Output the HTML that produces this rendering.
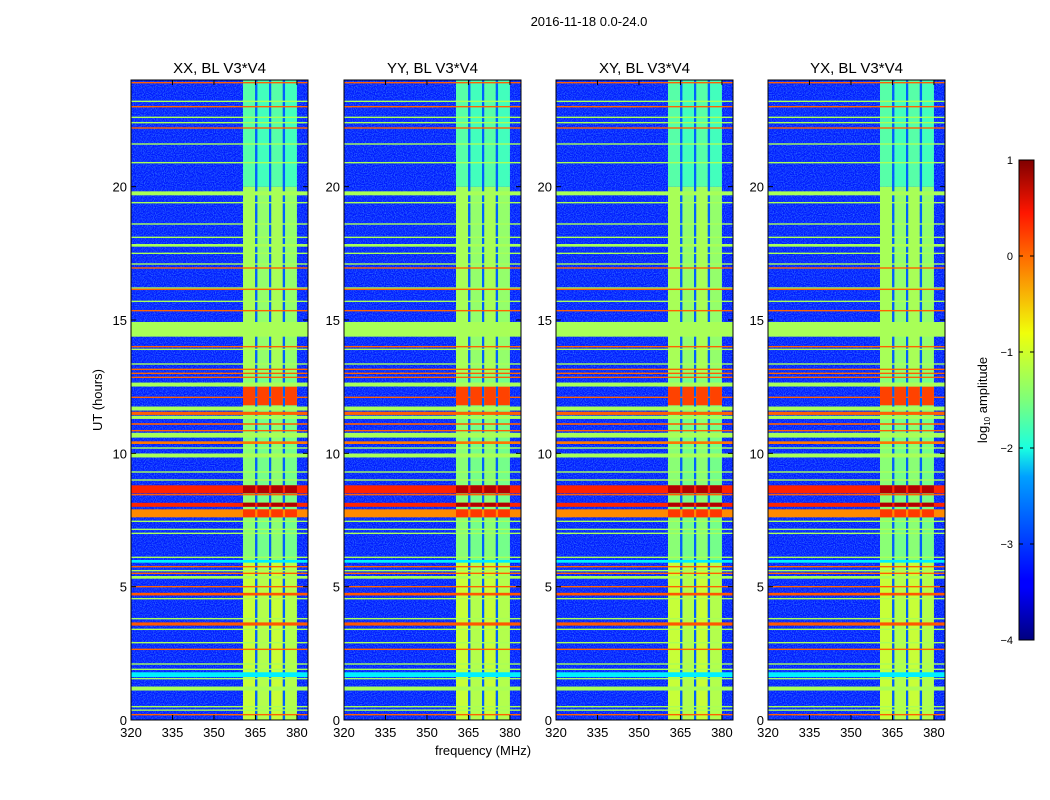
<!DOCTYPE html>
<html><head><meta charset="utf-8">
<style>
body{margin:0;background:#fff;}
svg{display:block;font-family:"Liberation Sans",sans-serif;}
</style></head>
<body>
<svg id="fig" width="1050" height="800" viewBox="0 0 1050 800" xmlns="http://www.w3.org/2000/svg">
<defs>
<filter id="noise" x="0" y="0" width="100%" height="100%">
<feTurbulence type="fractalNoise" baseFrequency="0.9" numOctaves="1" seed="3"/>
<feColorMatrix type="matrix" values="0 0 0 0 0.1  0 0 0 0 0.5  0 0 0 0 1  0 0 0 1.6 -0.6"/>
</filter>
<linearGradient id="jet" x1="0" y1="1" x2="0" y2="0">
<stop offset="0" stop-color="#00007f"/><stop offset="0.11" stop-color="#0000ff"/>
<stop offset="0.125" stop-color="#0000ff"/><stop offset="0.34" stop-color="#00a0ff"/>
<stop offset="0.4" stop-color="#1affe0"/><stop offset="0.5" stop-color="#7dff7a"/>
<stop offset="0.64" stop-color="#f0ff0a"/><stop offset="0.8" stop-color="#ff6a00"/>
<stop offset="0.89" stop-color="#ff1600"/><stop offset="1" stop-color="#800000"/>
</linearGradient>
</defs>
<text x="589" y="26" font-size="13" text-anchor="middle">2016-11-18 0.0-24.0</text>
<text x="483" y="755" font-size="13" text-anchor="middle">frequency (MHz)</text>
<text x="102" y="400" font-size="13" text-anchor="middle" transform="rotate(-90 102 400)">UT (hours)</text>
<g id="panels"></g>
<g>
<rect x="1019" y="160" width="15" height="480" fill="url(#jet)" stroke="#000" stroke-width="1"/>
<text x="987" y="400" font-size="13" text-anchor="middle" transform="rotate(-90 987 400)">log<tspan font-size="8" dy="3">10</tspan><tspan dy="-3"> amplitude</tspan></text>
<g id="cbticks"></g>
</g>
</svg>
<script>
const panelTitles = ["XX, BL V3*V4","YY, BL V3*V4","XY, BL V3*V4","YX, BL V3*V4"];
const xTicks = [320,335,350,365,380];
const yTicks = [0,5,10,15,20];
const cbTicks = [1,0,-1,-2,-3,-4];
const cbLabels = ["1","0","\u22121","\u22122","\u22123","\u22124"];
// RFI bands (freq start, freq end)
const bandStart = [360.5, 365.7, 370.7, 375.7];
const bandEnd   = [364.9, 369.9, 374.9, 380.0];
// band level by time segment: start hour, end hour, level
const segStart = [0, 6, 13, 20];
const segEnd   = [6, 13, 20, 24];
const segLevel = [-1.15, -1.45, -1.3, -1.7];
// time-bright blocks inside bands: hour start, hour end, level
const boostStart = [11.8, 8.5, 8.0, 7.6];
const boostEnd   = [12.5, 8.8, 8.15, 7.9];
const boostLevel = [0.05, 0.75, 0.75, 0.1];
// horizontal RFI rows: hour, thickness (h), level
const rowHour = [23.9,23.2,23.0,22.6,22.4,22.2,21.6,20.9,19.75,19.4,18.6,18.1,17.8,17.5,17.1,16.95,16.2,16.15,15.7,15.35,14.65,14.0,13.9,13.35,13.15,13.0,12.85,12.58,12.1,11.68,11.5,11.35,11.1,10.85,10.68,10.4,10.2,9.92,9.3,9.0,8.65,8.45,8.07,7.75,7.45,7.15,7.0,6.1,5.95,5.75,5.6,5.5,5.35,5.0,4.72,4.55,3.8,3.6,3.4,2.9,2.65,2.1,1.9,1.7,1.55,1.18,0.5,0.37,0.2];
const rowWidth = [0.04,0.05,0.05,0.05,0.04,0.05,0.04,0.05,0.15,0.05,0.04,0.04,0.1,0.04,0.04,0.05,0.04,0.04,0.05,0.05,0.55,0.05,0.05,0.05,0.05,0.05,0.05,0.15,0.05,0.15,0.12,0.12,0.06,0.05,0.18,0.1,0.04,0.15,0.04,0.04,0.3,0.05,0.15,0.3,0.05,0.05,0.04,0.04,0.1,0.05,0.04,0.05,0.1,0.05,0.1,0.05,0.04,0.12,0.05,0.04,0.05,0.04,0.05,0.18,0.05,0.15,0.04,0.04,0.05];
const rowLevel = [-0.1,-1.3,-0.1,-1.3,-1.3,-0.1,-1.3,-1.3,-1.3,-1.3,-1.3,-1.3,-1.3,-1.3,-1.3,-0.1,-1.3,-0.1,-1.3,-0.1,-1.3,-0.1,-1.3,-1.3,-0.1,-0.1,-0.1,-1.3,-0.1,-1.3,-0.1,-1.3,-0.1,-0.1,-1.3,-0.2,-1.3,-1.3,-1.3,-1.3,0.2,-0.1,0.2,-0.3,-1.3,-1.3,-1.3,-1.3,-2.2,-0.1,-1.3,-0.1,-1.3,-0.1,-0.05,-1.3,-1.3,-0.05,-1.3,-1.3,-0.1,-1.3,-1.3,-2.2,-1.3,-1.3,-1.3,-1.3,-0.1];

const NS="http://www.w3.org/2000/svg";
function jet(v){
  const t=Math.max(0,Math.min(1,(v+4)/5));
  const c=x=>Math.round(255*Math.max(0,Math.min(1,x)));
  return `rgb(${c(1.5-Math.abs(4*t-3))},${c(1.5-Math.abs(4*t-2))},${c(1.5-Math.abs(4*t-1))})`;
}
function mk(tag,attrs,parent){const e=document.createElementNS(NS,tag);for(const k in attrs)e.setAttribute(k,attrs[k]);parent.appendChild(e);return e;}
const panelX=[131,344,556,768], PW=177, PT=80, PH=640;
const fMin=320,fMax=384,hMax=24;
const root=document.getElementById('panels');
panelTitles.forEach((title,p)=>{
  const x0=panelX[p];
  const xs=f=>x0+(f-fMin)/(fMax-fMin)*PW;
  const ys=h=>PT+PH-(h/hMax)*PH;
  const g=mk('g',{},root);
  
  
  const cp='clip'+p;
  const clip=mk('clipPath',{id:cp},g); mk('rect',{x:x0,y:PT,width:PW,height:PH},clip);
  const hm=mk('g',{'clip-path':`url(#${cp})`},g);
  
  
  mk('rect',{x:x0,y:PT,width:PW,height:PH,fill:jet(-3.25)},hm);
  mk('rect',{x:x0,y:PT,width:PW,height:PH,filter:'url(#noise)',opacity:0.75},hm);
  // bands
  bandStart.forEach((bs,i)=>{
    segStart.forEach((ss,j)=>{
      const r=mk('rect',{x:xs(bs),y:ys(segEnd[j]),width:xs(bandEnd[i])-xs(bs),height:ys(ss)-ys(segEnd[j]),fill:jet(segLevel[j]+(i%2?-0.1:0))},hm);
      
      
    });
    if(i<bandStart.length-1){
      const r=mk('rect',{x:xs(bandEnd[i]),y:PT,width:xs(bandStart[i+1])-xs(bandEnd[i]),height:PH,fill:jet(-2.9)},hm);
      
      
    }
  });
  // rows
  rowHour.forEach((h,i)=>{
    const hh=Math.max(1.4,rowWidth[i]/hMax*PH);
    const r=mk('rect',{x:x0,y:ys(h)-hh/2,width:PW,height:hh,fill:jet(rowLevel[i])},hm);
    
    
  });
  // boosts within bands
  boostStart.forEach((bs,i)=>{
    bandStart.forEach((b,k)=>{
      const r=mk('rect',{x:xs(b),y:ys(boostEnd[i]),width:xs(bandEnd[k])-xs(b),height:ys(bs)-ys(boostEnd[i]),fill:jet(boostLevel[i])},hm);
      
      
    });
  });
  mk('rect',{x:x0,y:PT,width:PW,height:PH,fill:'none',stroke:'#000','stroke-width':1},g);
  const t=mk('text',{x:x0+PW/2,y:73,'font-size':15,'text-anchor':'middle'},g);
  t.textContent=title;
  
  
  xTicks.forEach(f=>{
    const x=xs(f);
    mk('line',{x1:x,x2:x,y1:PT+PH,y2:PT+PH-5,stroke:'#000'},g);
    mk('line',{x1:x,x2:x,y1:PT,y2:PT+5,stroke:'#000'},g);
    const l=mk('text',{x:x,y:737,'font-size':13,'text-anchor':'middle'},g);
    l.textContent=f;
    
    
  });
  yTicks.forEach(h=>{
    const y=ys(h);
    mk('line',{x1:x0,x2:x0+5,y1:y,y2:y,stroke:'#000'},g);
    mk('line',{x1:x0+PW,x2:x0+PW-5,y1:y,y2:y,stroke:'#000'},g);
    const l=mk('text',{x:x0-4,y:y+5,'font-size':13,'text-anchor':'end'},g);
    l.textContent=h;
    
    
  });
});
const cbg=document.getElementById('cbticks');
cbTicks.forEach((v,i)=>{
  const y=160+(1-v)/5*480;
  mk('line',{x1:1019,x2:1023,y1:y,y2:y,stroke:'#000'},cbg);
  mk('line',{x1:1034,x2:1030,y1:y,y2:y,stroke:'#000'},cbg);
  const l=mk('text',{x:1013,y:y+4,'font-size':11,'text-anchor':'end'},cbg);
  l.textContent=cbLabels[i];
  
  
});
</script>
</body></html>
